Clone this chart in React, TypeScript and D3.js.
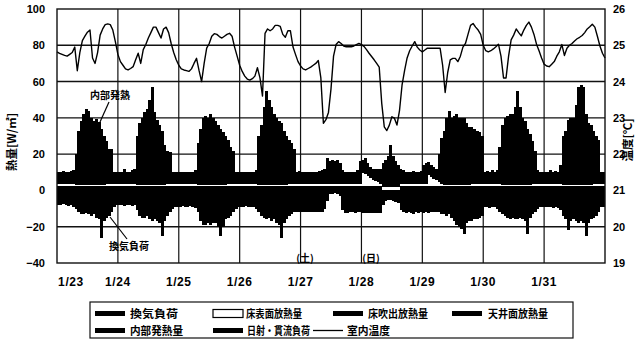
import React from "react";
import * as d3 from "d3";

// ---------- data (hourly, 1/23 0:00 .. 1/31 24:00) ----------
const dayLabels = ["1/23", "1/24", "1/25", "1/26", "1/27", "1/28", "1/29", "1/30", "1/31"];
const leftTicks = [100, 80, 60, 40, 20, 0, -20, -40];
const rightTicks = [26, 25, 24, 23, 22, 21, 20, 19];
const gridValues = [80, 60, 40, 20, 0, -20];

// 床吹出放熱量
const floorBlow = [
  2.5,2.5,2.5,2.5,2.5,2.5,2.5,2.5,2.5,2.5,2.5,2.5,2.5,2.5,2.5,2.5,2.5,2.5,2.5,2.5,2.5,2.5,2.5,2.5,
  2.5,2.5,2.5,2.5,2.5,2.5,2.5,2.5,2.5,2.5,2.5,2.5,2.5,2.5,2.5,2.5,2.5,2.5,2.5,2.5,2.5,2.5,2.5,2.5,
  2.5,2.5,2.5,2.5,2.5,2.5,2.5,2.5,2.5,2.5,2.5,2.5,2.5,2.5,2.5,2.5,2.5,2.5,2.5,2.5,2.5,2.5,2.5,2.5,
  2.5,2.5,2.5,2.5,2.5,2.5,2.5,2.5,2.5,2.5,2.5,2.5,2.5,2.5,2.5,2.5,2.5,2.5,2.5,2.5,2.5,2.5,2.5,2.5,
  2.5,2.5,2.5,2.5,2.5,2.5,2.5,2.5,2.5,2.5,2.5,2.5,2.5,2.5,2.5,2.5,2.5,2.5,2.5,2.5,2.5,2.5,2.5,2.5,
  2.5,2.5,2.5,2.5,2.5,2.5,2.5,2.5,0.5,0.5,0.5,0.5,0.5,0.5,0.5,2.5,2.5,2.5,2.5,2.5,2.5,2.5,2.5,2.5,
  2.5,2.5,2.5,2.5,2.5,2.5,2.5,2.5,2.5,2.5,2.5,2.5,2.5,2.5,2.5,2.5,2.5,2.5,2.5,2.5,2.5,2.5,2.5,2.5,
  2.5,2.5,2.5,2.5,2.5,2.5,2.5,2.5,2.5,2.5,2.5,2.5,2.5,2.5,2.5,2.5,2.5,2.5,2.5,2.5,2.5,2.5,2.5,2.5,
  2.5,2.5,2.5,2.5,2.5,2.5,2.5,2.5,2.5,2.5,2.5,2.5,2.5,2.5,2.5,2.5,2.5,2.5,2.5,2.5,2.5,2.5,2.5,2.5,
];

// 床表面放熱量 (white)
const floorSurface = [
  0.8,0.8,0.8,0.8,0.8,0.8,0.8,0.7,0.6,0.6,0.6,0.6,0.6,0.6,0.6,0.6,0.6,0.6,0.7,0.8,0.8,0.8,0.8,0.8,
  0.8,0.8,0.8,0.8,0.8,0.8,0.8,0.7,0.6,0.6,0.6,0.6,0.6,0.6,0.6,0.6,0.6,0.6,0.7,0.8,0.8,0.8,0.8,0.8,
  0.8,0.8,0.8,0.8,0.8,0.8,0.8,0.7,0.6,0.6,0.6,0.6,0.6,0.6,0.6,0.6,0.6,0.6,0.7,0.8,0.8,0.8,0.8,0.8,
  0.8,0.8,0.8,0.8,0.8,0.8,0.8,0.7,0.6,0.6,0.6,0.6,0.6,0.6,0.6,0.6,0.6,0.6,0.7,0.8,0.8,0.8,0.8,0.8,
  0.8,0.8,0.8,0.8,0.8,0.8,0.8,0.8,0.8,0.8,0.8,0.8,0.8,0.8,0.8,0.8,0.8,0.8,0.8,0.8,0.8,0.8,0.8,0.8,
  7,6.5,5.5,4.5,3.5,2.5,2,1.2,1.5,1.5,1.5,1.5,1.5,1.5,1.5,0.8,0.8,0.8,0.8,0.8,0.8,0.8,0.8,0.8,
  0.8,0.8,6,5,4,3,2,0.8,0.6,0.6,0.6,0.6,0.6,0.6,0.6,0.6,0.6,0.6,0.7,0.8,0.8,0.8,0.8,0.8,
  0.8,0.8,0.8,0.8,0.8,0.8,0.8,0.7,0.6,0.6,0.6,0.6,0.6,0.6,0.6,0.6,0.6,0.6,0.7,0.8,0.8,0.8,0.8,0.8,
  0.8,0.8,0.8,0.8,0.8,0.8,0.8,0.7,0.6,0.6,0.6,0.6,0.6,0.6,0.6,0.6,0.6,0.6,0.7,0.8,0.8,0.8,0.8,0.8,
];

// 天井面放熱量
const ceiling = [
  6.7,6.7,6.7,6.7,6.7,6.7,6.7,6.8,6.9,6.9,6.9,6.9,6.9,6.9,6.9,6.9,6.9,6.9,6.8,6.7,6.7,6.7,6.7,6.7,
  6.7,6.7,6.7,6.7,6.7,6.7,6.7,6.8,6.9,6.9,6.9,6.9,6.9,6.9,6.9,6.9,6.9,6.9,6.8,6.7,6.7,6.7,6.7,6.7,
  6.7,6.7,6.7,6.7,6.7,6.7,6.7,6.8,6.9,6.9,6.9,6.9,6.9,6.9,6.9,6.9,6.9,6.9,6.8,6.7,6.7,6.7,6.7,6.7,
  6.7,6.7,6.7,6.7,6.7,6.7,6.7,6.8,6.9,6.9,6.9,6.9,6.9,6.9,6.9,6.9,6.9,6.9,6.8,6.7,6.7,6.7,6.7,6.7,
  6.7,6.7,6.7,6.7,6.7,6.7,6.7,6.7,6.7,6.7,6.7,6.7,6.7,6.7,6.7,6.7,6.7,6.7,6.7,6.7,6.7,6.7,6.7,6.7,
  5,5,5,5,5,5.5,6,6.3,6,6,6,6,6,6,6,6.7,6.7,6.7,6.7,6.7,6.7,6.7,6.7,6.7,
  6.7,6.7,5,5,5.5,6,6,6.7,6.9,6.9,6.9,6.9,6.9,6.9,6.9,6.9,6.9,6.9,6.8,6.7,6.7,6.7,6.7,6.7,
  6.7,6.7,6.7,6.7,6.7,6.7,6.7,6.8,6.9,6.9,6.9,6.9,6.9,6.9,6.9,6.9,6.9,6.9,6.8,6.7,6.7,6.7,6.7,6.7,
  6.7,6.7,6.7,6.7,6.7,6.7,6.7,6.8,6.9,6.9,6.9,6.9,6.9,6.9,6.9,6.9,6.9,6.9,6.8,6.7,6.7,6.7,6.7,6.7,
];

// 日射・貫流負荷
const solar = [
  0,0,0,0,0,0,0,1,2,3,4,4,4,4,3,2,1,0.5,0,0,0,0,0,0,
  0,0,0,0,0,0,0,1,2,3,4,4,4,4,3,2,1,0.5,0,0,0,0,0,0,
  0,0,0,0,0,0,0,1,2,3,4,4,4,4,3,2,1,0.5,0,0,0,0,0,0,
  0,0,0,0,0,0,0,1,2,3,4,4,4,4,3,2,1,0.5,0,0,0,0,0,0,
  0,0,0,0,0,0,0,0,0,1,5,4,5,4,4,3,0.5,0,0,0,0,0,0,0,
  0,0,0,0,0,0,0,0,3,4,5,5,5,4,3,1,0,0,0,0,0,0,0,0,
  0,0,0,0,0,0,0,1,2,3,4,4,4,4,3,2,1,0.5,0,0,0,0,0,0,
  0,0,0,0,0,0,0,1,2,3,4,4,4,4,3,2,1,0.5,0,0,0,0,0,0,
  0,0,0,0,0,0,0,1,2,3,4,4,4,4,3,2,1,0.5,0,0,0,0,0,0,
];

// 内部発熱量
const internal = [
  0.3,0,0.5,0,0.4,0.8,1.2,9,21,25,28,31,30,26,25.5,27.5,26.5,23.5,20,17,13,13,0,0,
  0,0.3,2,0.2,0,1,2,19,25,27,29,31,36,43,30,27,25,22.5,15,12,11,0.3,0,0.2,
  0.2,0,0.3,0,0,0.3,1,15,22,27,27,26,28,26,25,24,23,21.5,20,18,14,12,0.3,0,
  0.2,0,0,0,0.2,0.2,1,19,24,33,41,36,32,28,27,26.5,26,22.5,20,18,16,13,0.3,0.5,
  0.3,0.2,0,0.2,0.3,0,0.2,0.5,1,1,3,2,2,2,2.5,2,0.5,0,0,0,0.2,0.3,1,6,
  2.5,4,2,1,1,1.5,1.5,2,4,5,6,12,6,4,3,1,1,0,0.2,0,0.5,0.2,0,0.5,
  4,5,2,1.5,1,0.5,9.5,18,21,27,30,26,27,28,27,28,29,26.5,25,25,24,23,22,20,
  0,0.5,0,1,0,1,14,25,28,28,28,28,32,41,33,28,27,23.5,21,17,12,1,0,0,
  0,0,1,0,0.5,0,4,19,21,26,26,26,33,43,45,45,31,26.5,26,23,20,18,0,0,
];

// 換気負荷
const ventilation = [
  -8,-8,-7.5,-8,-8.5,-8,-9,-10,-12,-13,-13,-12.5,-13,-14,-13,-15,-16,-26,-17,-15,-14,-12,-9,-8,
  -8,-8,-8.5,-8,-8,-8.5,-8,-11,-14,-15,-15,-14,-16,-17,-16,-17,-18,-25,-17,-14,-12,-10,-9,-9,
  -9,-8.5,-9,-9,-8.5,-9,-9.5,-12,-17,-19,-19,-18,-19,-18,-18,-20,-25,-20,-16,-15,-14,-12,-10,-9,
  -9,-9,-8.5,-9,-9,-9,-10,-12,-14,-15,-16,-15,-17,-16,-18,-19,-26,-18,-16,-14,-13,-12,-12,-12,
  -12,-12,-12,-12,-12,-12,-12,-12,-12,-10,-6,-2,-2,-1.5,-2,-3,-11,-12.5,-12.5,-12,-12,-12.5,-12,-12,
  -12.5,-12.5,-12.5,-12.5,-12.5,-12.5,-12.5,-12.5,-8,-6,-5.5,-5,-6,-6.5,-7,-11,-12,-12.5,-12,-12.5,-13,-12,-12.5,-12,
  -12.5,-12,-12.5,-12,-12,-12,-12,-13,-13,-14,-13,-15,-17,-19,-20,-21,-24,-18,-17,-17,-16,-16,-15,-14,
  -9,-9,-9.5,-9,-9,-10,-12,-13,-14,-15,-16,-15,-16,-16,-15,-16,-17,-24,-15,-13,-12,-10,-9,-9,
  -9,-9,-9,-9.5,-9,-9.5,-11,-14,-16,-22,-17,-16,-17,-18,-17,-18,-25,-18,-16,-15,-14,-12,-9,-9,
];

// 室内温度 [℃]
const roomTemp = [
  24.82,24.78,24.75,24.72,24.7,24.75,24.8,24.95,24.3,24.8,25.13,25.25,25.36,25.42,24.65,24.5,24.8,25.28,25.45,25.57,25.59,25.57,25.42,25.1,
  24.75,24.55,24.45,24.35,24.32,24.36,24.41,24.6,24.78,24.5,24.88,25.02,25.2,25.35,25.5,25.5,25.35,25.2,25.45,25.5,25.35,25.05,24.8,24.6,
  24.45,24.35,24.32,24.3,24.28,24.35,24.5,24.64,24.3,24.0,24.5,24.92,25.05,25.25,25.32,25.3,25.24,25.2,25.25,25.3,25.33,25.25,24.95,24.7,
  24.45,24.28,24.15,24.07,24.04,24.08,24.15,24.38,24.1,23.6,25.33,25.45,25.4,25.45,25.55,25.55,25.52,25.3,25.22,25.4,25.4,24.96,24.75,24.55,
  24.43,24.35,24.32,24.36,24.4,24.45,24.5,24.58,24.1,22.85,22.95,23.15,23.8,24.7,25.02,25.1,25.05,24.98,24.96,24.96,24.96,24.98,25.02,25.05,
  25.02,24.97,24.88,24.78,24.69,24.6,24.5,24.4,23.4,22.75,22.65,22.8,23.03,22.99,22.8,23.2,23.9,24.3,24.65,24.85,24.98,25.1,24.95,24.87,
  24.82,24.87,24.92,24.92,24.92,24.92,24.92,24.92,24.45,23.7,24.25,24.6,24.64,24.64,24.55,24.7,24.95,25.05,25.3,25.55,25.6,25.5,25.42,25.3,
  25.0,24.85,24.82,24.85,24.9,24.96,25.03,24.7,24.1,24.1,24.7,25.15,25.28,25.45,25.35,25.26,25.42,25.55,25.64,25.5,25.3,25.03,24.85,24.65,
  24.48,24.43,24.41,24.48,24.55,24.7,24.82,25.02,24.72,24.92,25.0,25.05,25.12,25.18,25.22,25.27,25.35,25.45,25.51,25.58,25.5,25.25,24.98,24.78,
  24.65,
];

const seriesKeys = ["floorBlow", "floorSurface", "ceiling", "solar", "internal", "ventilation"];
const seriesFill: Record<string, string> = {
  floorBlow: "#000", floorSurface: "#fff", ceiling: "#000", solar: "#000", internal: "#000", ventilation: "#000",
};

// legend entries: label, kind, swatch x, text x, row, text width
const legendLabels = ["換気負荷", "床表面放熱量", "床吹出放熱量", "天井面放熱量", "内部発熱量", "日射・貫流負荷", "室内温度"];
const legendKinds = ["bar", "white", "bar", "bar", "bar", "bar", "line"];

// ---------- layout ----------
const W = 640, H = 342;
const PL = 57, PR = 605, PT = 9, PB = 263;
const JP = "'Noto Sans CJK JP', 'Noto Sans', sans-serif";
const NUM = "'Liberation Sans', Arial, sans-serif";
const legendPos = [
  { sx: 95, tx: 130, row: 0, tw: 48 },
  { sx: 213, tx: 246, row: 0, tw: 56 },
  { sx: 333, tx: 368, row: 0, tw: 60 },
  { sx: 452, tx: 488, row: 0, tw: 60 },
  { sx: 95, tx: 130, row: 1, tw: 53 },
  { sx: 213, tx: 247, row: 1, tw: 63 },
  { sx: 313, tx: 347, row: 1, tw: 43 },
];

export default function App() {
  const nHours = floorBlow.length;
  const x = d3.scaleLinear().domain([0, nHours]).range([PL, PR]);
  const y = d3.scaleLinear().domain([-40, 100]).range([PB, PT]);
  const yT = d3.scaleLinear().domain([19, 26]).range([PB, PT]);

  const rows = floorBlow.map((_, i) => ({
    floorBlow: floorBlow[i], floorSurface: floorSurface[i], ceiling: ceiling[i],
    solar: solar[i], internal: internal[i], ventilation: ventilation[i],
  }));
  const stacked = d3.stack<any>().keys(seriesKeys).offset(d3.stackOffsetDiverging)(rows);

  const line = d3.line<number>().x((_, i) => x(i)).y((d) => yT(d)).curve(d3.curveLinear);

  const dayTicks = d3.range(1, dayLabels.length);
  const rowY = [313.5, 330.5];

  return (
    <div style={{ position: "absolute", left: 0, top: 0 }}>
      <svg width={W} height={H} style={{ display: "block", background: "#fff" }}>
        <rect x={0} y={0} width={W} height={H} fill="#fff" />
        {/* grid */}
        {gridValues.map((v) => (
          <line key={"h" + v} x1={PL} x2={PR} y1={y(v)} y2={y(v)} stroke="#111" strokeWidth={1.4} />
        ))}
        {dayTicks.map((d) => (
          <line key={"v" + d} x1={x(d * 24)} x2={x(d * 24)} y1={PT} y2={PB} stroke="#111" strokeWidth={1.2} />
        ))}
        {/* stacked bars */}
        <g shapeRendering="crispEdges">
          {stacked.map((s) => (
            <g key={s.key} fill={seriesFill[s.key]}>
              {s.map((d, i) => {
                const y0 = y(d[0]), y1 = y(d[1]);
                const h = Math.abs(y0 - y1);
                if (h < 0.01) return null;
                return (
                  <rect key={i} x={x(i)} y={Math.min(y0, y1)} width={x(i + 1) - x(i) + 0.4} height={h} />
                );
              })}
            </g>
          ))}
        </g>
        {/* temperature */}
        <path d={line(roomTemp) || ""} fill="none" stroke="#000" strokeWidth={1.4} strokeLinejoin="round" />
        {/* frame */}
        <rect x={PL} y={PT} width={PR - PL} height={PB - PT} fill="none" stroke="#111" strokeWidth={1.4} />
        {/* left ticks */}
        {leftTicks.map((v) => (
          <text key={"l" + v} x={45} y={y(v) + 4} textAnchor="end" fontFamily={NUM} fontWeight="bold" fontSize={11}>
            {v < 0 ? "\u2212" + Math.abs(v) : v}
          </text>
        ))}
        {rightTicks.map((v) => (
          <text key={"r" + v} x={613} y={yT(v) + 4} textAnchor="start" fontFamily={NUM} fontWeight="bold" fontSize={11}>
            {v}
          </text>
        ))}
        {/* x labels */}
        {dayLabels.map((lab, i) => (
          <text key={lab} x={i === 0 ? 71 : x(i * 24)} y={286} textAnchor="middle" fontFamily={NUM} fontWeight="bold" fontSize={12} letterSpacing={0.6}>
            {lab}
          </text>
        ))}
        {/* axis titles */}
        <text transform="translate(16,142) rotate(-90)" textAnchor="middle" fontFamily={JP} fontWeight="bold" fontSize={11.5}>
          熱量[W/㎡]
        </text>
        <text transform="translate(632,140) rotate(-90)" textAnchor="middle" fontFamily={JP} fontWeight="bold" fontSize={11.5}>
          温度[℃]
        </text>
        {/* annotations */}
        <text x={90} y={99} fontFamily={JP} fontWeight="bold" fontSize={10}>内部発熱</text>
        <line x1={109} y1={102} x2={100} y2={122} stroke="#000" strokeWidth={1.2} />
        <text x={109} y={250} fontFamily={JP} fontWeight="bold" fontSize={10}>換気負荷</text>
        <line x1={110} y1={217} x2={127} y2={239} stroke="#000" strokeWidth={1.2} />
        <text x={305} y={262} textAnchor="middle" fontFamily={JP} fontWeight="bold" fontSize={10}>(土)</text>
        <text x={371} y={262} textAnchor="middle" fontFamily={JP} fontWeight="bold" fontSize={10}>(日)</text>
        {/* legend */}
        <rect x={90} y={302} width={483} height={36} fill="none" stroke="#111" strokeWidth={1.2} />
        <g fontFamily={JP} fontWeight="bold" fontSize={11}>
          {legendLabels.map((lab, i) => {
            const p = legendPos[i];
            const cy = rowY[p.row];
            const kind = legendKinds[i];
            return (
              <g key={lab}>
                {kind === "bar" && <rect x={p.sx} y={cy - 2.5} width={30} height={5} fill="#000" />}
                {kind === "white" && (
                  <rect x={p.sx} y={cy - 4} width={30} height={8} fill="#fff" stroke="#000" strokeWidth={1.2} />
                )}
                {kind === "line" && (
                  <line x1={p.sx} x2={p.sx + 30} y1={cy} y2={cy} stroke="#000" strokeWidth={1.3} />
                )}
                <text x={p.tx} y={cy + 4} textLength={p.tw} lengthAdjust="spacingAndGlyphs">{lab}</text>
              </g>
            );
          })}
        </g>
      </svg>
    </div>
  );
}
